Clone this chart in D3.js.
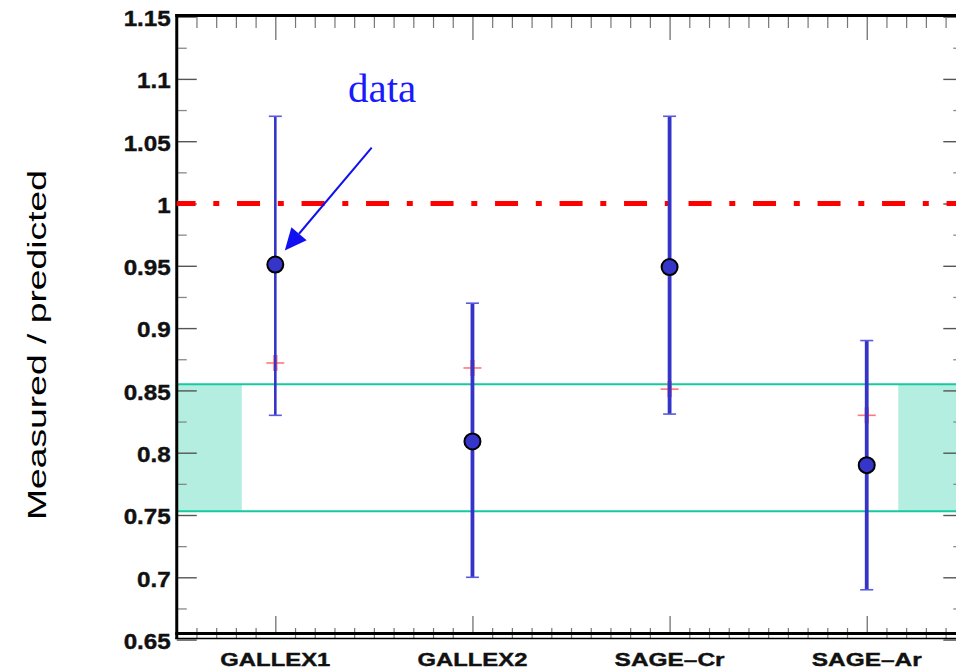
<!DOCTYPE html>
<html>
<head>
<meta charset="utf-8">
<script src="https://cdn.jsdelivr.net/npm/d3@7"></script>
<style>
  body { margin: 0; background: #fff; }
  svg { display: block; }
</style>
</head>
<body>
<svg id="chart" width="956" height="671"></svg>
<script>
// chart values
const categories = ["GALLEX1", "GALLEX2", "SAGE\u2013Cr", "SAGE\u2013Ar"];
const measured = [0.951, 0.809, 0.949, 0.790];
const errHigh = [1.070, 0.920, 1.070, 0.890];
const errLow = [0.830, 0.700, 0.831, 0.690];
const redMarks = [0.872, 0.868, 0.851, 0.830];
const yTickValues = [0.65, 0.7, 0.75, 0.8, 0.85, 0.9, 0.95, 1, 1.05, 1.1, 1.15];
const yTickLabels = ["0.65", "0.7", "0.75", "0.8", "0.85", "0.9", "0.95", "1", "1.05", "1.1", "1.15"];
const band = [0.753, 0.855];
const bandFillEnds = [0.83, 4.16];
const refLine = 1.0;

const width = 956, height = 671;
const font = "'Liberation Sans', Arial, sans-serif";
const svg = d3.select('#chart');

const x = d3.scaleLinear().domain([0.5, 4.5]).range([176.75, 965.3]);
const y = d3.scaleLinear().domain([0.65, 1.15]).range([639.6, 16.6]);

const xMinor = d3.range(6, 45).map(d => d / 10).filter(d => d % 1 !== 0);
const xMajor = [1, 2, 3, 4];
const yMinor = d3.range(0, 20).map(d => 0.675 + d * 0.05).filter(d => d < 1.15);

// band (teal)
svg.append("rect")
    .attr("x", x(0.5)).attr("width", x(bandFillEnds[0]) - x(0.5))
    .attr("y", y(band[1])).attr("height", y(band[0]) - y(band[1]))
    .attr("fill", "#b3eee0");
svg.append("rect")
    .attr("x", x(bandFillEnds[1])).attr("width", x(4.5) - x(bandFillEnds[1]))
    .attr("y", y(band[1])).attr("height", y(band[0]) - y(band[1]))
    .attr("fill", "#b3eee0");
band.forEach(v => {
  svg.append("line")
      .attr("x1", x(0.5)).attr("x2", width)
      .attr("y1", y(v)).attr("y2", y(v))
      .attr("stroke", "#16c9a0").attr("stroke-width", 2);
});

// ticks
function styleTicks(g, col, w) {
  g.select(".domain").remove();
  g.selectAll(".tick line").attr("stroke", col).attr("stroke-width", w);
}
svg.append("g").attr("transform", "translate(" + x(0.5) + ",0)")
    .call(d3.axisLeft(y).tickValues(yMinor).tickSize(-10).tickFormat(""))
    .call(g => styleTicks(g, "#888", 1.3));
svg.append("g").attr("transform", "translate(" + x(0.5) + ",0)")
    .call(d3.axisLeft(y).tickValues(yTickValues).tickSize(-20).tickPadding(6)
      .tickFormat((d, i) => yTickLabels[i]))
    .call(g => styleTicks(g, "#555", 1.4))
    .call(g => g.selectAll("text")
      .attr("font-family", font)
      .attr("font-weight", "bold").attr("font-size", 22)
      .attr("fill", "#111").attr("stroke", "#111").attr("stroke-width", 0.4)
      .attr("dy", "0.4em")
      .each(function() {
        // reference glyphs are a little wider than the font
        const w = this.getComputedTextLength();
        d3.select(this).attr("textLength", w * 1.1).attr("lengthAdjust", "spacingAndGlyphs");
      }));
svg.append("g").attr("transform", "translate(" + x(4.5) + ",0)")
    .call(d3.axisRight(y).tickValues(yMinor).tickSize(-12).tickFormat(""))
    .call(g => styleTicks(g, "#888", 1.3));
svg.append("g").attr("transform", "translate(" + x(4.5) + ",0)")
    .call(d3.axisRight(y).tickValues(yTickValues).tickSize(-22).tickFormat(""))
    .call(g => styleTicks(g, "#555", 1.4));

svg.append("g").attr("transform", "translate(0,15)")
    .call(d3.axisTop(x).tickValues(xMinor).tickSize(-13).tickFormat(""))
    .call(g => styleTicks(g, "#777", 1.2));
svg.append("g").attr("transform", "translate(0,15)")
    .call(d3.axisTop(x).tickValues(xMajor).tickSize(-25).tickFormat(""))
    .call(g => styleTicks(g, "#666", 1.2));
svg.append("g").attr("transform", "translate(0,639)")
    .call(d3.axisBottom(x).tickValues(xMinor).tickSize(-11).tickFormat(""))
    .call(g => styleTicks(g, "#777", 1.2));
svg.append("g").attr("transform", "translate(0,634)")
    .call(d3.axisBottom(x).tickValues(xMajor).tickSize(-18).tickFormat(""))
    .call(g => styleTicks(g, "#666", 1.2));

// frame
svg.append("line").attr("x1", x(0.5)).attr("x2", x(0.5)).attr("y1", 14).attr("y2", 639)
    .attr("stroke", "#000").attr("stroke-width", 3);
svg.append("line").attr("x1", x(0.5) - 1.5).attr("x2", width).attr("y1", 15.5).attr("y2", 15.5)
    .attr("stroke", "#000").attr("stroke-width", 3);
svg.append("line").attr("x1", x(0.5) - 1.5).attr("x2", width).attr("y1", 633.5).attr("y2", 633.5)
    .attr("stroke", "#000").attr("stroke-width", 3);
svg.append("line").attr("x1", x(0.5) - 1.5).attr("x2", width).attr("y1", 638.5).attr("y2", 638.5)
    .attr("stroke", "#000").attr("stroke-width", 1.5);

// x category labels
svg.append("g").selectAll("text")
    .data(categories)
    .enter()
    .append("text")
    .attr("x", (d, i) => x(i + 1))
    .attr("y", 666)
    .attr("text-anchor", "middle")
    .attr("font-family", font)
    .attr("font-weight", "bold")
    .attr("font-size", 19)
    .attr("textLength", 110)
    .attr("lengthAdjust", "spacingAndGlyphs")
    .attr("fill", "#111")
    .attr("stroke", "#111")
    .attr("stroke-width", 0.4)
    .text(d => d);

// y title
svg.append("text")
    .attr("transform", "translate(46,345) rotate(-90)")
    .attr("text-anchor", "middle")
    .attr("font-family", font)
    .attr("font-size", 25)
    .attr("textLength", 350)
    .attr("lengthAdjust", "spacingAndGlyphs")
    .attr("fill", "#000")
    .text("Measured / predicted");

// reference line at 1
svg.append("line")
    .attr("x1", x(0.5)).attr("x2", width)
    .attr("y1", y(refLine)).attr("y2", y(refLine))
    .attr("stroke", "#ff0000").attr("stroke-width", 5)
    .attr("stroke-dasharray", "23,17.75,6,17.75")
    .attr("stroke-dashoffset", 4.2);

// red marks
const red = svg.append("g");
redMarks.forEach((v, i) => {
  red.append("line")
      .attr("x1", x(i + 1) - 9).attr("x2", x(i + 1) + 9)
      .attr("y1", y(v)).attr("y2", y(v))
      .attr("stroke", "#ff5555").attr("stroke-opacity", 0.8).attr("stroke-width", 1.6);
  red.append("line")
      .attr("x1", x(i + 1)).attr("x2", x(i + 1))
      .attr("y1", y(v) - 8).attr("y2", y(v) + 8)
      .attr("stroke", "#ff5555").attr("stroke-opacity", 0.7).attr("stroke-width", 4.5);
});

// error bars
const err = svg.append("g");
measured.forEach((v, i) => {
  const cx = x(i + 1);
  err.append("line")
      .attr("x1", cx).attr("x2", cx)
      .attr("y1", y(errHigh[i])).attr("y2", y(errLow[i]))
      .attr("stroke", "#3434c8").attr("stroke-width", i === 0 ? 2.6 : 3.8);
  [errHigh[i], errLow[i]].forEach(e => {
    err.append("line")
        .attr("x1", cx - 6.5).attr("x2", cx + 6.5)
        .attr("y1", y(e)).attr("y2", y(e))
        .attr("stroke", "#5a5ae0").attr("stroke-width", 1.6);
  });
});

// points
svg.append("g").selectAll("circle")
    .data(measured)
    .enter()
    .append("circle")
    .attr("cx", (d, i) => x(i + 1))
    .attr("cy", d => y(d))
    .attr("r", 8)
    .attr("fill", "#3535c9")
    .attr("stroke", "#000")
    .attr("stroke-width", 2);

// annotation
svg.append("text")
    .attr("x", 348).attr("y", 102)
    .attr("font-family", "'Liberation Serif', 'Times New Roman', serif")
    .attr("font-size", 41)
    .attr("fill", "#1a1aff")
    .text("data");
const tip = [x(1) + 9.5, y(measured[0]) - 14];
const start = [371.7, 147.7];
const ang = Math.atan2(tip[1] - start[1], tip[0] - start[0]);
const hl = 22, hw = 10;
const bx = tip[0] - hl * Math.cos(ang), by = tip[1] - hl * Math.sin(ang);
svg.append("line")
    .attr("x1", start[0]).attr("y1", start[1]).attr("x2", bx).attr("y2", by)
    .attr("stroke", "#1010f0").attr("stroke-width", 2);
svg.append("path")
    .attr("d", "M" + tip[0] + "," + tip[1] +
      "L" + (bx + hw * Math.sin(ang)) + "," + (by - hw * Math.cos(ang)) +
      "L" + (bx - hw * Math.sin(ang)) + "," + (by + hw * Math.cos(ang)) + "Z")
    .attr("fill", "#1010f0");
</script>
</body>
</html>
